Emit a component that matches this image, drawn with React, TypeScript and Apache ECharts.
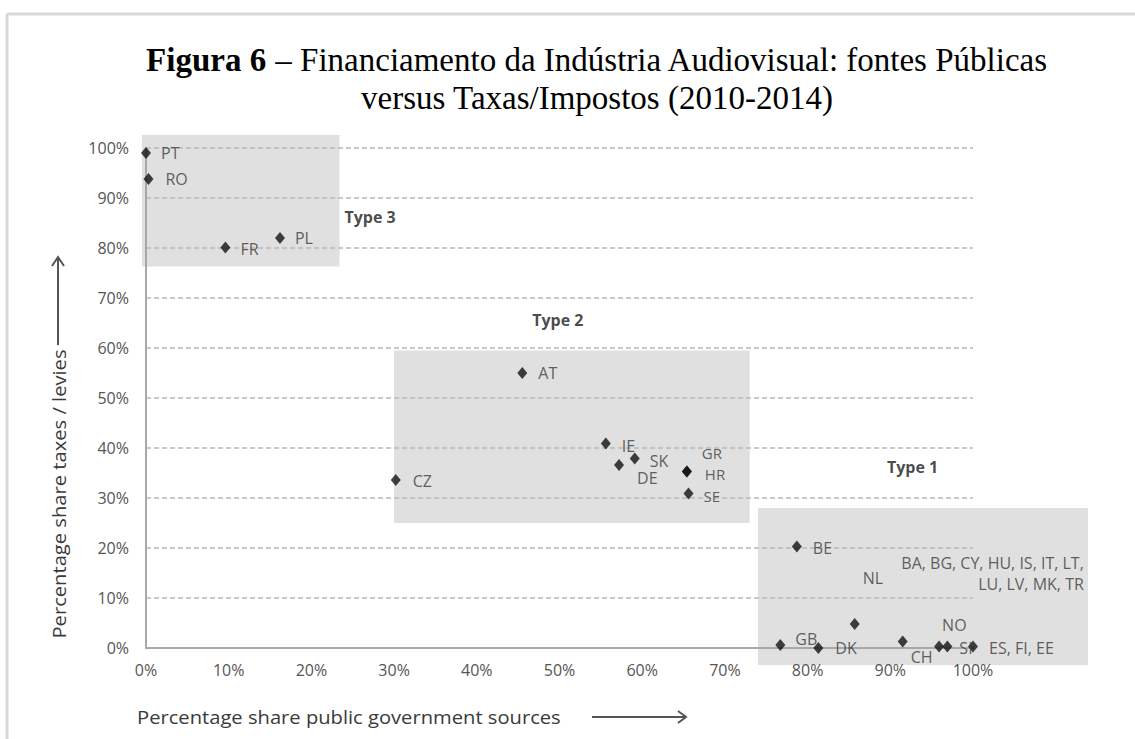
import React, { useEffect, useRef } from "react";
import * as echarts from "echarts";

// ---- data ----
const countries = ["PT", "RO", "FR", "PL", "AT", "IE", "SK", "DE", "GR", "HR", "SE", "CZ", "BE", "NL", "GB", "DK", "CH", "NO", "SI", "ES, FI, EE"];
const publicShare = [0.0, 0.3, 9.6, 16.2, 45.5, 55.6, 59.1, 57.2, 65.4, 65.4, 65.6, 30.2, 78.7, 85.7, 76.7, 81.3, 91.5, 95.9, 96.9, 100.0];
const taxShare = [99.0, 93.8, 80.1, 82.0, 55.0, 40.9, 37.9, 36.6, 35.3, 35.3, 30.9, 33.6, 20.3, 4.8, 0.6, 0.0, 1.3, 0.3, 0.3, 0.3];

const typeNames = ["Type 3", "Type 2", "Type 1"];
const typeAnchorX = [27.1, 49.8, 92.7];
const typeAnchorY = [86.2, 65.6, 36.3];
// shaded boxes: [xFrom, yFrom, xTo, yTo]
const typeBoxes = [
  [-0.5, 76.3, 23.4, 102.6],
  [30.0, 25.0, 73.0, 59.5],
  [74.0, -3.4, 113.9, 28.0],
];
const groupNote = "BA, BG, CY, HU, IS, IT, LT,\nLU, LV, MK, TR";
const groupAnchor = [113.4, 14.9];

const titleLine1Bold = "Figura 6";
const titleLine1 = " – Financiamento da Indústria Audiovisual: fontes Públicas";
const titleLine2 = "versus Taxas/Impostos (2010-2014)";
const xTitle = "Percentage share public government sources";
const yTitle = "Percentage share taxes / levies";

// label placement (style): offset of each country label from its marker [dx, dy]
const labelOffsets: number[][] = [
  [10, 0], [12, 0], [10, 1], [10, 0], [11, 0], [11, 2], [10, 2], [13, 13], [10, -19], [13, 2],
  [10, 2], [12, 1], [11, 1], [3, -46], [10, -6], [12, 0], [3, 15], [-2, -22], [7, 1], [11, 1],
];
// slightly smaller labels where three names are stacked tightly (GR, HR, SE)
const labelSizes = [16, 16, 16, 16, 16, 16, 16, 16, 15, 15, 15, 16, 16, 16, 16, 16, 16, 16, 16, 16];

// ---- layout ----
const X0 = 146; // pixel of x = 0
const PX = 8.27; // pixels per x unit
const Y100 = 148; // pixel of y = 100
const PY = 5; // pixels per y unit
const W = 1135;
const H = 739;

const FONT = "'Open Sans', 'DejaVu Sans', sans-serif";
const SERIF = "'Liberation Serif', 'Times New Roman', serif";

export default function App() {
  const ref = useRef<HTMLDivElement>(null);
  useEffect(() => {
    if (!ref.current) return;
    const chart = echarts.init(ref.current, undefined, { renderer: "svg" });

    const pointData = countries.map((c, i) => ({
      name: c,
      value: [publicShare[i], taxShare[i]],
      label: { offset: labelOffsets[i], fontSize: labelSizes[i], lineHeight: labelSizes[i] },
    }));

    const annData = [
      ...typeNames.map((t, i) => ({
        name: t,
        value: [typeAnchorX[i], typeAnchorY[i]],
        label: { fontWeight: "bold", color: "#1a1a1a", align: "center" },
      })),
      {
        name: groupNote,
        value: groupAnchor,
        label: { align: "right", lineHeight: 21, color: "#3a3a3a" },
      },
    ];

    const innerLeft = X0;
    const innerRight = W - (X0 + 100 * PX);
    const innerTop = Y100;
    const innerBottom = H - (Y100 + 100 * PY);

    const outerLeft = X0 - 10 * PX;
    const outerWidth = 125 * PX;
    const outerTop = Y100 - 10 * PY;
    const outerHeight = 120 * PY;

    const option: any = {
      animation: false,
      backgroundColor: "#ffffff",
      grid: [
        { left: innerLeft, right: innerRight, top: innerTop, bottom: innerBottom, containLabel: false, outerBoundsMode: "none" },
        { left: outerLeft, width: outerWidth, top: outerTop, height: outerHeight, containLabel: false, outerBoundsMode: "none" },
      ],
      xAxis: [
        {
          type: "value",
          gridIndex: 0,
          min: 0,
          max: 100,
          interval: 10,
          z: 2,
          splitLine: { show: false },
          axisTick: { show: false },
          axisLine: { show: true, lineStyle: { color: "#a8a8a8", width: 2 } },
          axisLabel: { formatter: "{value}%", color: "#555555", fontFamily: FONT, fontSize: 16, margin: 14 },
        },
        { type: "value", gridIndex: 1, min: -10, max: 115, show: false },
      ],
      yAxis: [
        {
          type: "value",
          gridIndex: 0,
          min: 0,
          max: 100,
          interval: 10,
          z: 2,
          splitLine: { show: true, lineStyle: { type: [5, 3], color: "#b8b8b8", width: 1.5 } },
          axisTick: { show: false },
          axisLine: { show: true, lineStyle: { color: "#a8a8a8", width: 2 } },
          axisLabel: { formatter: "{value}%", color: "#555555", fontFamily: FONT, fontSize: 16, margin: 17 },
        },
        { type: "value", gridIndex: 1, min: -10, max: 110, show: false },
      ],
      series: [
        {
          type: "scatter",
          name: "boxes",
          xAxisIndex: 1,
          yAxisIndex: 1,
          z: 1,
          silent: true,
          symbol: "none",
          symbolSize: 0,
          data: pointData.map((d) => d.value),
          markArea: {
            silent: true,
            itemStyle: { color: "#e0e0e0" },
            label: { show: false },
            data: typeBoxes.map((b) => [{ coord: [b[0], b[1]] }, { coord: [b[2], b[3]] }]),
          },
        },
        {
          type: "scatter",
          name: "countries",
          xAxisIndex: 1,
          yAxisIndex: 1,
          z: 5,
          symbol: "diamond",
          symbolSize: [10, 12],
          itemStyle: { color: "#111111" },
          label: {
            show: true,
            position: "right",
            distance: 0,
            formatter: "{b}",
            fontFamily: FONT,
            fontSize: 16,
            lineHeight: 16,
            color: "#3a3a3a",
          },
          data: pointData,
        },
        {
          type: "scatter",
          name: "annotations",
          xAxisIndex: 1,
          yAxisIndex: 1,
          z: 5,
          silent: true,
          symbolSize: 0,
          itemStyle: { color: "transparent" },
          label: {
            show: true,
            position: "inside",
            formatter: "{b}",
            fontFamily: FONT,
            fontSize: 16,
            color: "#3a3a3a",
          },
          data: annData,
        },
      ],
      graphic: [
        { type: "line", shape: { x1: 7, y1: 14, x2: 1135, y2: 14 }, style: { stroke: "#d8d8d8", lineWidth: 3 } },
        { type: "line", shape: { x1: 7, y1: 14, x2: 7, y2: 739 }, style: { stroke: "#d8d8d8", lineWidth: 3 } },
        {
          type: "text",
          x: 597,
          y: 60,
          style: {
            text: `{b|${titleLine1Bold}}${titleLine1}`,
            fontFamily: SERIF,
            fontSize: 33,
            fill: "#000",
            align: "center",
            verticalAlign: "middle",
            rich: {
              b: { fontWeight: "bold", fontFamily: SERIF, fontSize: 33, fill: "#000" },
            },
          },
        },
        {
          type: "text",
          x: 597,
          y: 98,
          style: {
            text: titleLine2,
            fontFamily: SERIF,
            fontSize: 33,
            fill: "#000",
            align: "center",
            verticalAlign: "middle",
          },
        },
        {
          type: "text",
          x: 59,
          y: 494,
          rotation: Math.PI / 2,
          scaleX: 1.12,
          style: { text: yTitle, fontFamily: FONT, fontSize: 18, fill: "#3a3a3a", align: "center", verticalAlign: "middle" },
        },
        { type: "line", shape: { x1: 58, y1: 345, x2: 58, y2: 258 }, style: { stroke: "#555", lineWidth: 2 } },
        { type: "polyline", shape: { points: [[52, 266], [58, 257], [64, 266]] }, style: { stroke: "#555", lineWidth: 2, fill: "none" } },
        {
          type: "text",
          x: 137,
          y: 717,
          scaleX: 1.12,
          style: { text: xTitle, fontFamily: FONT, fontSize: 18, fill: "#3a3a3a", align: "left", verticalAlign: "middle" },
        },
        { type: "line", shape: { x1: 592, y1: 717, x2: 685, y2: 717 }, style: { stroke: "#555", lineWidth: 2 } },
        { type: "polyline", shape: { points: [[678, 711], [686, 717], [678, 723]] }, style: { stroke: "#555", lineWidth: 2, fill: "none" } },
      ],
    };

    chart.setOption(option);
    return () => chart.dispose();
  }, []);

  return (
    <div
      ref={ref}
      style={{ position: "fixed", left: 0, top: 0, width: W, height: H, background: "#fff" }}
    />
  );
}
